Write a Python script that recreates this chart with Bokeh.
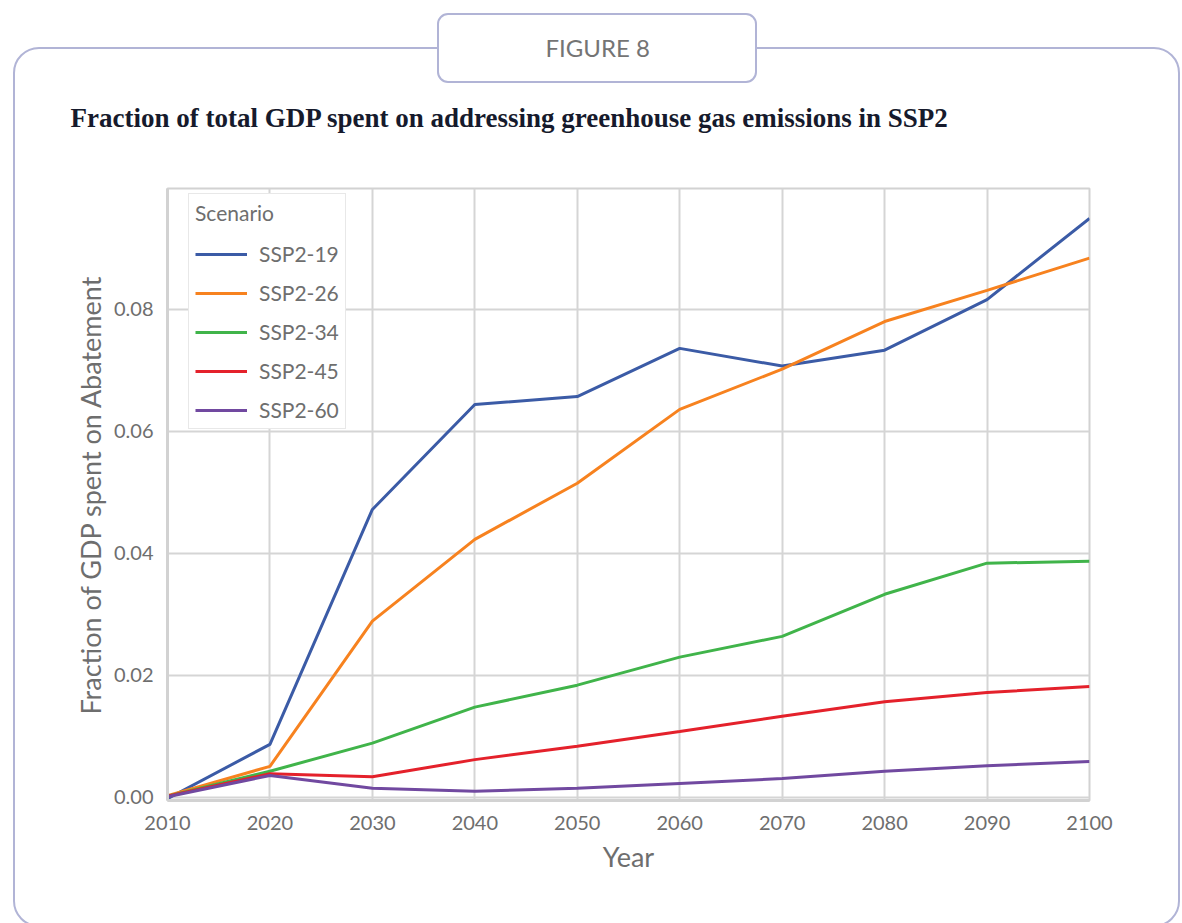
from bokeh.plotting import figure
from bokeh.models import (SingleIntervalTicker, FixedTicker, NumeralTickFormatter,
                          Range1d, Title, InlineStyleSheet)
from bokeh.embed import file_html
from bokeh.resources import INLINE

years = [2010, 2020, 2030, 2040, 2050, 2060, 2070, 2080, 2090, 2100]
scenarios = ["SSP2-19", "SSP2-26", "SSP2-34", "SSP2-45", "SSP2-60"]
ssp2_19 = [-0.0002, 0.0087, 0.0472, 0.0644, 0.0657, 0.0736, 0.0707, 0.0733, 0.0816, 0.0949]
ssp2_26 = [0.0003, 0.0051, 0.0289, 0.0423, 0.0515, 0.0636, 0.0702, 0.0780, 0.0831, 0.0884]
ssp2_34 = [0.0002, 0.0043, 0.0089, 0.0148, 0.0184, 0.0230, 0.0264, 0.0333, 0.0384, 0.0387]
ssp2_45 = [0.0002, 0.0039, 0.0034, 0.0062, 0.0084, 0.0108, 0.0133, 0.0157, 0.0172, 0.0182]
ssp2_60 = [0.0001, 0.0036, 0.0015, 0.0010, 0.0015, 0.0023, 0.0031, 0.0043, 0.0052, 0.0059]
series = [ssp2_19, ssp2_26, ssp2_34, ssp2_45, ssp2_60]
colors = ["#3b5ba6", "#f7821f", "#40b44a", "#e4212b", "#7149a0"]
y_ticks = [0.0, 0.02, 0.04, 0.06, 0.08]

title_text = "Fraction of total GDP spent on addressing greenhouse gas emissions in SSP2"
tab_text = "FIGURE 8"
FONT = "Lato"
GREY = "#6e6e6e"
FRAME = "#b1b4d6"

W, H = 1182, 923
p = figure(width=W, height=H, output_backend="svg", toolbar_location=None,
           title=None, min_border_left=167, min_border_right=W - 1089,
           min_border_top=188, min_border_bottom=H - 800,
           x_range=Range1d(2010, 2100), y_range=Range1d(-0.0005, 0.0998))
p.background_fill_color = "white"
p.border_fill_alpha = 0
p.outline_line_color = "#d2d2d2"
p.outline_line_width = 2

for name, ys, c in zip(scenarios, series, colors):
    p.line(years, ys, line_color=c, line_width=3, legend_label=name)

p.xaxis.ticker = SingleIntervalTicker(interval=10)
p.yaxis.ticker = FixedTicker(ticks=y_ticks)
p.yaxis.formatter = NumeralTickFormatter(format="0.00")
for ax in (p.xaxis[0], p.yaxis[0]):
    ax.axis_line_color = "#d2d2d2"
    ax.axis_line_width = 3
    ax.major_tick_line_color = None
    ax.minor_tick_line_color = None
    ax.major_label_text_font = FONT
    ax.major_label_text_font_size = "20px"
    ax.major_label_text_color = GREY
    ax.axis_label_text_font = FONT
    ax.axis_label_text_font_size = "27px"
    ax.axis_label_text_color = GREY
    ax.axis_label_text_font_style = "normal"
p.xaxis.axis_label = "Year"
p.yaxis.axis_label = "Fraction of GDP spent on Abatement"
p.xaxis.major_label_standoff = 9
p.xaxis.axis_label_standoff = 7
p.yaxis.major_label_standoff = 8
p.yaxis.axis_label_standoff = 4
p.xgrid.grid_line_color = "#d5d5d5"
p.ygrid.grid_line_color = "#d5d5d5"
p.xgrid.grid_line_width = 2
p.ygrid.grid_line_width = 2

leg = p.legend[0]
leg.title = "Scenario"
leg.title_text_font = FONT
leg.title_text_font_size = "21px"
leg.title_text_color = GREY
leg.title_text_font_style = "normal"
leg.title_text_align = "center"
leg.title_standoff = 16
leg.label_text_font = FONT
leg.label_text_font_size = "21px"
leg.label_text_color = GREY
leg.glyph_width = 52
leg.glyph_height = 24
leg.label_height = 24
leg.label_standoff = 12
leg.spacing = 14
leg.padding = 6
leg.margin = 0
leg.border_line_color = "#d2d2d2"
leg.border_line_width = 1.5
leg.background_fill_alpha = 1
leg.location = (21, 371)

# texts above the plot area (stacked upward from the plot frame);
# the first, blank one only keeps a gap between the plot and the title
p.add_layout(Title(text=" ", standoff=39, text_font_size="1px", text_color="white"), "above")
p.add_layout(Title(text=title_text, align="left", offset=-97, standoff=28,
                   text_font="Liberation Serif", text_font_style="bold",
                   text_font_size="27px", text_color="#161a2c"), "above")
p.add_layout(Title(text=tab_text, align="left", offset=378, standoff=49,
                   text_font=FONT, text_font_style="normal",
                   text_font_size="24px", text_color="#747474"), "above")

# decorative rounded frame and tab drawn behind the canvas
css = InlineStyleSheet(css=f"""
:host {{ position: relative; z-index: 0; overflow: hidden; }}
:host::before {{ content: ""; position: absolute; left: 13px; top: 47px;
  width: 1167px; height: 880px; box-sizing: border-box;
  border: 2.5px solid {FRAME}; border-radius: 26px; z-index: -2; pointer-events: none; }}
:host::after {{ content: ""; position: absolute; left: 437px; top: 13px;
  width: 320px; height: 70px; box-sizing: border-box; background: white;
  border: 2.5px solid {FRAME}; border-radius: 11px; z-index: -1; pointer-events: none; }}
""")
p.stylesheets = [css]

open("out.html", "w").write(file_html(p, INLINE))
